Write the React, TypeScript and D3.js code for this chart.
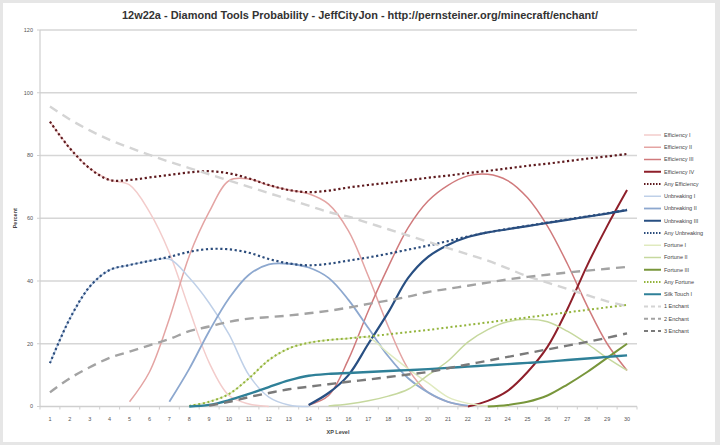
import React, { useEffect, useRef } from 'react'
import * as d3 from 'd3'

const title = '12w22a - Diamond Tools Probability - JeffCityJon - http://pernsteiner.org/minecraft/enchant/'
const levels = d3.range(1, 31)
const yTicks = [0, 20, 40, 60, 80, 100, 120]

// each series starts at its own XP level
const efficiency1 = [90.8, 82.3, 75.9, 72.2, 70.6, 62, 49, 31, 14, 3.5, 0.8, 0]
const efficiency2 = [1.5, 11, 28, 48, 62, 72, 72.5, 70.5, 69, 67.8, 64.5, 56, 41.5, 25.5, 12, 4.5, 1.5, 0]
const efficiency3 = [0.5, 3.5, 15, 30.5, 44.5, 57, 65.5, 70.5, 73.5, 74, 72, 66.5, 57.5, 45.5, 32, 20, 11.5]
const efficiency4 = [0, 1.8, 5, 11, 19, 31, 45, 57.5, 69]
const anyEfficiency = [90.8, 82.3, 75.9, 72.2, 72.2, 73, 73.8, 74.6, 75, 74.3, 72.7, 70.6, 69, 68.3, 68.8,
  69.8, 70.6, 71.3, 72.1, 72.9, 73.6, 74.4, 75.1, 75.9, 76.7, 77.4, 78.2, 79, 79.7, 80.5]
const unbreaking1 = [13.8, 28, 38.2, 43.5, 45.1, 46.4, 47, 41, 33, 23, 10, 3, 0.5, 0]
const unbreaking2 = [1.5, 12, 24, 34.5, 42, 45.3, 45.5, 44.3, 41, 34, 25, 16, 9, 4.5, 1.5, 0.3]
const unbreaking3 = [0.5, 4.3, 10, 20, 30, 41, 47.7, 51.5, 54, 55.5, 56.5, 57.5, 58.5, 59.5, 60.5, 61.5, 62.6]
const anyUnbreaking = [13.8, 28, 38.2, 43.5, 45.1, 46.4, 47.7, 49.3, 50.2, 50.1, 49, 47, 45.6, 45, 45.5,
  46.5, 47.5, 48.7, 50, 51.3, 52.7, 54.2, 55.5, 56.6, 57.6, 58.6, 59.6, 60.6, 61.6, 62.7]
const fortune1 = [0.2, 1.5, 4, 9, 14.8, 18.5, 20.3, 21.2, 21.7, 22, 17, 12, 7.5, 3, 1, 0.2, 0]
const fortune2 = [0.2, 0.8, 1.8, 3.3, 5.5, 10, 14.5, 20.5, 24.5, 27, 27.8, 27, 24, 20, 15.5, 11.5]
const fortune3 = [0, 0.5, 1.5, 3.5, 7, 11, 15.5, 20]
const anyFortune = [0.2, 1.5, 4, 9, 14.8, 18.5, 20.3, 21.2, 21.7, 22.3, 23, 23.7, 24.4, 25.2, 26, 26.8,
  27.6, 28.4, 29.2, 30, 30.8, 31.6, 32.4]
const silkTouch1 = [0, 0.5, 2, 4, 6.2, 8.3, 9.8, 10.4, 10.7, 11, 11.3, 11.6, 11.9, 12.3, 12.7, 13.1, 13.5,
  13.9, 14.3, 14.8, 15.3, 15.8, 16.3]
const enchant1 = [95.6, 91.5, 88, 85, 82.5, 80.2, 78, 76, 74, 72, 70, 68, 66, 64, 62, 60.5, 58.5, 56.5,
  54.5, 52.5, 50.5, 48.5, 46.5, 44, 41.5, 39.5, 37.5, 35.5, 33.5, 32]
const enchant2 = [4.5, 9, 12.5, 15.5, 17.5, 19.5, 21.5, 24, 25.5, 27, 28, 28.5, 29, 29.7, 30.5, 31.5, 32.7,
  33.8, 35, 36.5, 37.5, 38.5, 39.5, 40.5, 41.3, 42, 42.7, 43.3, 43.9, 44.5]
const enchant3 = [0.3, 1.5, 3, 4.3, 5.5, 6.3, 7.1, 7.9, 8.6, 9.4, 10.2, 11, 12.2, 13.4, 14.6, 15.8, 17,
  18.2, 19.4, 20.6, 21.9, 23.3]

type Series = { name: string; start: number; values: number[]; color: string; width: number; dash?: string }

const series: Series[] = [
  { name: 'Efficiency I', start: 1, values: efficiency1, color: '#f3cccb', width: 1.5 },
  { name: 'Efficiency II', start: 5, values: efficiency2, color: '#e4a4a3', width: 1.5 },
  { name: 'Efficiency III', start: 14, values: efficiency3, color: '#d07a7c', width: 1.5 },
  { name: 'Efficiency IV', start: 22, values: efficiency4, color: '#8e1f2a', width: 2 },
  { name: 'Any Efficiency', start: 1, values: anyEfficiency, color: '#5e1a1e', width: 2.2, dash: '2.2 2.6' },
  { name: 'Unbreaking I', start: 1, values: unbreaking1, color: '#bfd0e8', width: 1.5 },
  { name: 'Unbreaking II', start: 7, values: unbreaking2, color: '#8da8cf', width: 1.8 },
  { name: 'Unbreaking III', start: 14, values: unbreaking3, color: '#284f82', width: 2.2 },
  { name: 'Any Unbreaking', start: 1, values: anyUnbreaking, color: '#2b4c7c', width: 2.2, dash: '2.2 2.6' },
  { name: 'Fortune I', start: 8, values: fortune1, color: '#e0eabf', width: 1.5 },
  { name: 'Fortune II', start: 15, values: fortune2, color: '#c6d89e', width: 1.5 },
  { name: 'Fortune III', start: 23, values: fortune3, color: '#78963b', width: 2 },
  { name: 'Any Fortune', start: 8, values: anyFortune, color: '#93b43c', width: 2, dash: '2 2.6' },
  { name: 'Silk Touch I', start: 8, values: silkTouch1, color: '#2f8098', width: 2.4 },
  { name: '1 Enchant', start: 1, values: enchant1, color: '#d4d4d4', width: 2.4, dash: '9 6' },
  { name: '2 Enchant', start: 1, values: enchant2, color: '#a3a3a3', width: 2.4, dash: '9 6' },
  { name: '3 Enchant', start: 9, values: enchant3, color: '#7a7a7a', width: 2.4, dash: '9 6' },
]

const W = 720
const H = 445
const font = '"Liberation Sans", Arial, sans-serif'

export default function App() {
  const svgRef = useRef<SVGSVGElement>(null)

  useEffect(() => {
    document.body.style.margin = '0'
    const svg = d3.select(svgRef.current)
    svg.selectAll('*').remove()

    // frame
    svg.append('rect').attr('width', W).attr('height', H).attr('fill', '#e6e6e6')
    svg.append('rect').attr('x', 3).attr('y', 3).attr('width', 712).attr('height', 439).attr('fill', '#ffffff')

    const x = d3.scaleBand<number>().domain(levels).range([40, 637])
    const y = d3.scaleLinear().domain([0, 120]).range([406.5, 30])
    const cx = (l: number) => (x(l) as number) + x.bandwidth() / 2

    // gridlines
    svg.append('g')
      .selectAll('line')
      .data(yTicks.filter(t => t > 0))
      .enter()
      .append('line')
      .attr('x1', 40)
      .attr('x2', 637)
      .attr('y1', d => y(d))
      .attr('y2', d => y(d))
      .attr('stroke', '#d6d6d6')
      .attr('stroke-width', 1.4)

    // axes lines
    svg.append('line').attr('x1', 40).attr('x2', 40).attr('y1', y(120)).attr('y2', y(0))
      .attr('stroke', '#cfcfcf').attr('stroke-width', 1.2)
    svg.append('line').attr('x1', 40).attr('x2', 637).attr('y1', y(0)).attr('y2', y(0))
      .attr('stroke', '#cfcfcf').attr('stroke-width', 1.4)

    svg.append('g')
      .selectAll('line')
      .data(levels.concat([31]))
      .enter()
      .append('line')
      .attr('x1', d => d === 31 ? 637 : (x(d) as number))
      .attr('x2', d => d === 31 ? 637 : (x(d) as number))
      .attr('y1', y(0))
      .attr('y2', y(0) + 3)
      .attr('stroke', '#cfcfcf')

    svg.append('g')
      .selectAll('line')
      .data(yTicks)
      .enter()
      .append('line')
      .attr('x1', 37)
      .attr('x2', 40)
      .attr('y1', d => y(d))
      .attr('y2', d => y(d))
      .attr('stroke', '#cfcfcf')

    // tick labels
    svg.append('g')
      .selectAll('text')
      .data(yTicks)
      .enter()
      .append('text')
      .attr('x', 33)
      .attr('y', d => y(d))
      .attr('dy', '0.35em')
      .attr('text-anchor', 'end')
      .attr('font-family', font)
      .attr('font-size', 5.5)
      .attr('fill', '#555')
      .text(d => d)

    svg.append('g')
      .selectAll('text')
      .data(levels)
      .enter()
      .append('text')
      .attr('x', d => cx(d))
      .attr('y', 419)
      .attr('dy', '0.35em')
      .attr('text-anchor', 'middle')
      .attr('font-family', font)
      .attr('font-size', 5.5)
      .attr('fill', '#555')
      .text(d => d)

    // axis titles
    svg.append('text')
      .attr('transform', `translate(15,${(y(0) + y(120)) / 2}) rotate(-90)`)
      .attr('text-anchor', 'middle')
      .attr('dy', '0.35em')
      .attr('font-family', font)
      .attr('font-size', 5.5)
      .attr('font-weight', 'bold')
      .attr('fill', '#444')
      .text('Percent')

    svg.append('text')
      .attr('x', 338)
      .attr('y', 432)
      .attr('dy', '0.35em')
      .attr('text-anchor', 'middle')
      .attr('font-family', font)
      .attr('font-size', 5.5)
      .attr('font-weight', 'bold')
      .attr('fill', '#444')
      .text('XP Level')

    // title
    svg.append('text')
      .attr('x', 360)
      .attr('y', 19)
      .attr('text-anchor', 'middle')
      .attr('font-family', font)
      .attr('font-size', 11.5)
      .attr('font-weight', 'bold')
      .attr('fill', '#333')
      .attr('textLength', 476)
      .attr('lengthAdjust', 'spacingAndGlyphs')
      .text(title)

    // series
    const line = d3.line<[number, number]>()
      .x(d => cx(d[0]))
      .y(d => y(Math.max(0, d[1])))
      .curve(d3.curveCatmullRom.alpha(0.5))

    const lines = svg.append('g')
    series.forEach(s => {
      const pts: [number, number][] = s.values.map((v, i) => [s.start + i, v])
      lines.append('path')
        .datum(pts)
        .attr('fill', 'none')
        .attr('stroke', s.color)
        .attr('stroke-width', s.width)
        .attr('stroke-dasharray', s.dash ?? null)
        .attr('stroke-linejoin', 'round')
        .attr('d', line)
    })

    // legend
    const legendY = d3.scaleLinear().domain([0, series.length - 1]).range([135, 331])
    const legend = svg.append('g')
    series.forEach((s, i) => {
      legend.append('line')
        .attr('x1', 644)
        .attr('x2', 661)
        .attr('y1', legendY(i))
        .attr('y2', legendY(i))
        .attr('stroke', s.color)
        .attr('stroke-width', Math.min(s.width, 2))
        .attr('stroke-dasharray', s.dash ? (s.dash.startsWith('9') ? '4 3' : '1.5 1.5') : null)
      legend.append('text')
        .attr('x', 664)
        .attr('y', legendY(i))
        .attr('dy', '0.35em')
        .attr('font-family', font)
        .attr('font-size', 5.5)
        .attr('fill', '#444')
        .text(s.name)
    })
  }, [])

  return <svg ref={svgRef} width={W} height={H} style={{ display: 'block' }}></svg>
}
